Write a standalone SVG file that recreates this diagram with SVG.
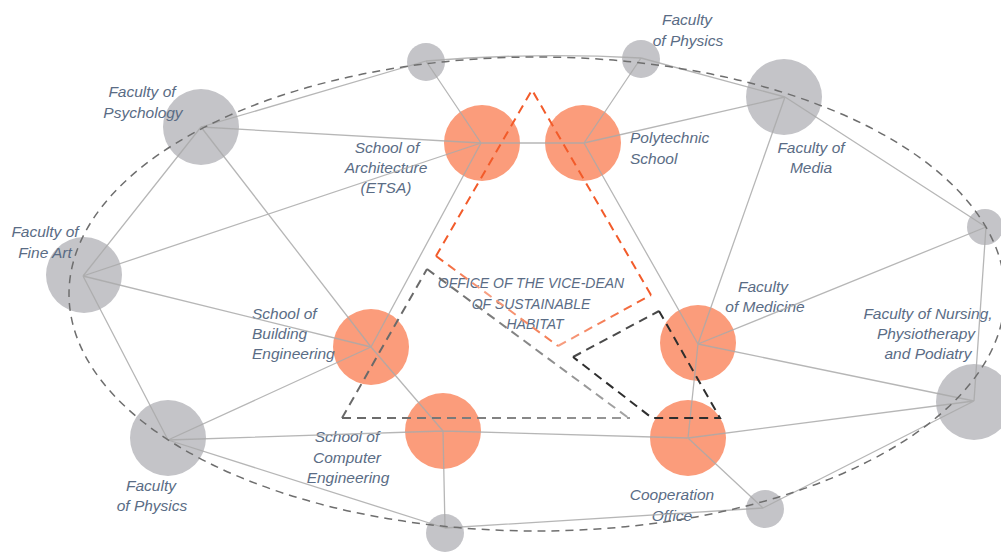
<svg xmlns="http://www.w3.org/2000/svg" width="1001" height="552" viewBox="0 0 1001 552">
<style>
.g{fill:#c4c4c8}
.o{fill:#fb9c7b}
.e{stroke:#a9a9a9;stroke-width:1.3;fill:none;opacity:0.85}
.t{font-family:"Liberation Sans",Arial,sans-serif;font-style:italic;font-size:15.5px;fill:#5a6c85}
.c{text-anchor:middle}
.d{fill:none;stroke-width:2;stroke-dasharray:9 6;stroke-linecap:butt}
</style>
<defs>
<linearGradient id="oLB" gradientUnits="userSpaceOnUse" x1="436" y1="256" x2="558" y2="346"><stop offset="0" stop-color="#f25b2a"/><stop offset="0.4" stop-color="#f7a083"/><stop offset="1" stop-color="#f47a50"/></linearGradient>
<linearGradient id="oBR" gradientUnits="userSpaceOnUse" x1="558" y1="346" x2="651" y2="295"><stop offset="0" stop-color="#f7a083"/><stop offset="1" stop-color="#f25b2a"/></linearGradient>
<linearGradient id="gH" gradientUnits="userSpaceOnUse" x1="427" y1="269" x2="630" y2="419"><stop offset="0" stop-color="#6a6a6a"/><stop offset="1" stop-color="#a5a5a5"/></linearGradient>
<linearGradient id="gB" gradientUnits="userSpaceOnUse" x1="342" y1="418" x2="630" y2="418"><stop offset="0" stop-color="#666666"/><stop offset="1" stop-color="#9a9a9a"/></linearGradient>
</defs>
<rect width="1001" height="552" fill="#ffffff"/>
<g id="nodes">
<g id="psychology"><circle class="g" cx="201" cy="127" r="38"/><text class="t c" x="142" y="97">Faculty of</text><text class="t c" x="143" y="118">Psychology</text></g>
<g id="fine-art"><circle class="g" cx="84" cy="275" r="38"/><text class="t c" x="45" y="237">Faculty of</text><text class="t c" x="45" y="258">Fine Art</text></g>
<g id="top-gray-1"><circle class="g" cx="426" cy="62" r="19"/></g>
<g id="physics-top"><circle class="g" cx="641" cy="59" r="19"/><text class="t c" x="687" y="25">Faculty</text><text class="t c" x="688" y="46">of Physics</text></g>
<g id="media"><circle class="g" cx="784" cy="97" r="38"/><text class="t c" x="811" y="153">Faculty of</text><text class="t c" x="811" y="173">Media</text></g>
<g id="right-small"><circle class="g" cx="985" cy="227" r="18"/></g>
<g id="nursing"><circle class="g" cx="974" cy="402" r="38"/><text class="t c" x="928" y="319">Faculty of Nursing,</text><text class="t c" x="926" y="339">Physiotherapy</text><text class="t c" x="928" y="359">and Podiatry</text></g>
<g id="bottom-right-small"><circle class="g" cx="765" cy="509" r="19"/></g>
<g id="bottom-small"><circle class="g" cx="445" cy="533" r="19"/></g>
<g id="physics-bottom"><circle class="g" cx="168" cy="438" r="38"/><text class="t c" x="151" y="491">Faculty</text><text class="t c" x="152" y="511">of Physics</text></g>
<g id="architecture"><circle class="o" cx="482" cy="143" r="38"/><text class="t c" x="387" y="153">School of</text><text class="t c" x="386" y="173">Architecture</text><text class="t c" x="386" y="193">(ETSA)</text></g>
<g id="polytechnic"><circle class="o" cx="583" cy="143" r="38"/><text class="t" x="630" y="143">Polytechnic</text><text class="t" x="630" y="164">School</text></g>
<g id="building"><circle class="o" cx="371" cy="347" r="38"/><text class="t" x="252" y="319">School of</text><text class="t" x="252" y="339">Building</text><text class="t" x="252" y="359">Engineering</text></g>
<g id="computer"><circle class="o" cx="443" cy="431" r="38"/><text class="t c" x="347" y="442">School of</text><text class="t c" x="347" y="463">Computer</text><text class="t c" x="348" y="483">Engineering</text></g>
<g id="medicine"><circle class="o" cx="698" cy="343" r="38"/><text class="t c" x="763" y="292">Faculty</text><text class="t c" x="765" y="312">of Medicine</text></g>
<g id="cooperation"><circle class="o" cx="688" cy="438" r="38"/><text class="t c" x="672" y="500">Cooperation</text><text class="t c" x="672" y="521">Office</text></g>
<g id="vice-dean"><text class="t c" x="531" y="288" style="font-size:14px">OFFICE OF THE VICE-DEAN</text><text class="t c" x="531" y="309" style="font-size:14px">OF SUSTAINABLE</text><text class="t c" x="535" y="329" style="font-size:14px">HABITAT</text></g>
</g>
<g id="connectors" class="e">
<path d="M201 127L426 61M201 127L481 143M201 127L83 276M201 127L371 347M83 276L481 143M83 276L371 347M83 276L168 440M168 440L371 347M168 440L443 431M168 440L445 528M371 347L443 431M371 347L481 143M443 431L688 438M443 431L445 528M481 143L426 61M481 143L584 143M584 143L641 58M584 143L785 97M584 143L698 344M426 61Q533 52 641 58M641 58L785 97M785 97L986 227M785 97L698 344M986 227L698 344M986 227L974 401M698 344L974 401M698 344L688 438M688 438L974 401M688 438L763 508M763 508L974 401M763 508L445 528"/>
</g>
<g id="outlines">
<ellipse cx="537" cy="294" rx="468" ry="237" fill="none" stroke="#6e6e6e" stroke-width="1.5" stroke-dasharray="8 6"/>
<path class="d" d="M651 295L532 90L436 256" stroke="#f25b2a"/>
<path class="d" d="M436 256L558 346" stroke="url(#oLB)"/>
<path class="d" d="M558 346L651 295" stroke="url(#oBR)"/>
<path class="d" d="M342 418L427 269" stroke="#6a6a6a"/>
<path class="d" d="M427 269L630 419" stroke="url(#gH)"/>
<path class="d" d="M342 418L630 418" stroke="url(#gB)"/>
<path class="d" d="M573 357L659 311" stroke="#4a4a4a"/>
<path class="d" d="M659 311L720 418L652 418L573 357" stroke="#2e2e2e"/>
</g>
</svg>
